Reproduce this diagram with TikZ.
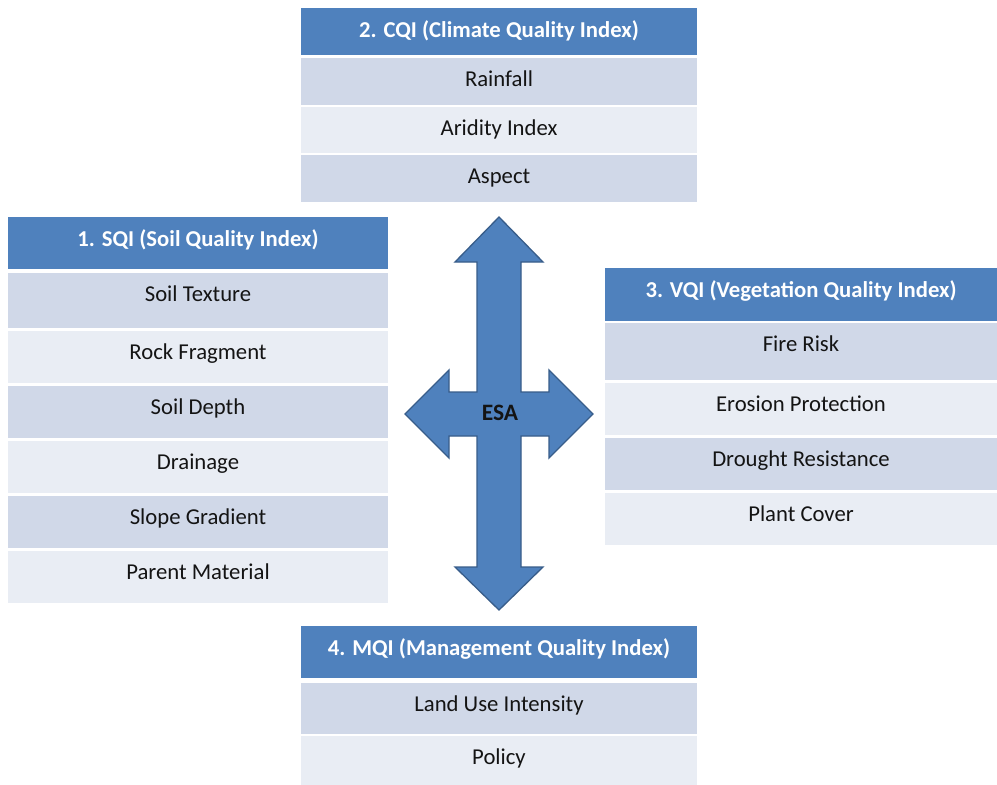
\documentclass[tikz,border=0pt]{standalone}
\usepackage{fontspec}
\setmainfont{Carlito}
\definecolor{hdrblue}{HTML}{4F81BD}
\definecolor{arrowedge}{HTML}{385D8A}
\definecolor{rowdark}{HTML}{D0D8E8}
\definecolor{rowlight}{HTML}{E9EDF4}
\begin{document}
\begin{tikzpicture}[x=1pt,y=-1pt,
  cell/.style={rectangle, inner sep=0pt, text height=15pt, font=\fontsize{22.7}{25}\selectfont},
  hdrcell/.style={cell, fill=hdrblue, text=white, font=\fontsize{22.7}{25}\selectfont\bfseries, text height=17pt},
  darkcell/.style={cell, fill=rowdark, text=black!92},
  lightcell/.style={cell, fill=rowlight, text=black!92},
  wc/.style={minimum width=396pt},
  ws/.style={minimum width=380pt},
  wv/.style={minimum width=392pt},
  bigarrow/.style={fill=hdrblue, draw=arrowedge, line width=1.3pt, line join=miter}
]
\useasboundingbox[fill=white] (0,0) rectangle (997,785);

% 2. CQI
\node[hdrcell, wc, minimum height=47pt, text depth=5pt] (cqih) at (499,31.5) {2. CQI (Climate Quality Index)};
\node[darkcell, wc, minimum height=47pt, text depth=6pt] (cqi1) at (499,81.5) {Rainfall};
\node[lightcell, wc, minimum height=46pt, text depth=5pt] (cqi2) at (499,130) {Aridity Index};
\node[darkcell, wc, minimum height=47pt, text depth=6pt] (cqi3) at (499,178.5) {Aspect};

% 1. SQI
\node[hdrcell, ws, minimum height=52pt, text depth=10pt] (sqih) at (198,243) {1. SQI (Soil Quality Index)};
\node[darkcell, ws, minimum height=55pt, text depth=14pt] (sqi1) at (198,300.5) {Soil Texture};
\node[lightcell, ws, minimum height=52pt, text depth=11pt] (sqi2) at (198,357) {Rock Fragment};
\node[darkcell, ws, minimum height=52pt, text depth=11pt] (sqi3) at (198,412) {Soil Depth};
\node[lightcell, ws, minimum height=52pt, text depth=11pt] (sqi4) at (198,467) {Drainage};
\node[darkcell, ws, minimum height=52pt, text depth=11pt] (sqi5) at (198,522) {Slope Gradient};
\node[lightcell, ws, minimum height=52pt, text depth=11pt] (sqi6) at (198,577) {Parent Material};

% 3. VQI
\node[hdrcell, wv, minimum height=53pt, text depth=11pt] (vqih) at (801,294.5) {3. VQI (Vegetation Quality Index)};
\node[darkcell, wv, minimum height=57pt, text depth=16pt] (vqi1) at (801,351.5) {Fire Risk};
\node[lightcell, wv, minimum height=52pt, text depth=11pt] (vqi2) at (801,409) {Erosion Protection};
\node[darkcell, wv, minimum height=52pt, text depth=11pt] (vqi3) at (801,464) {Drought Resistance};
\node[lightcell, wv, minimum height=52pt, text depth=11pt] (vqi4) at (801,519) {Plant Cover};

% 4. MQI
\node[hdrcell, wc, minimum height=52pt, text depth=10pt] (mqih) at (499,652) {4. MQI (Management Quality Index)};
\node[darkcell, wc, minimum height=51pt, text depth=10pt] (mqi1) at (499,708.5) {Land Use Intensity};
\node[lightcell, wc, minimum height=49pt, text depth=8pt] (mqi2) at (499,760.5) {Policy};

% ESA four-way arrow
\draw[bigarrow] (499,217) -- (543,262) -- (521,262) -- (521,392) -- (549,392) -- (549,370)
  -- (593,414) -- (549,458) -- (549,436) -- (521,436) -- (521,567) -- (543,567)
  -- (499,610) -- (455,567) -- (477,567) -- (477,436) -- (449,436) -- (449,458)
  -- (405,414) -- (449,370) -- (449,392) -- (477,392) -- (477,262) -- (455,262) -- cycle;
\node[font=\fontsize{23.5}{25}\selectfont\bfseries, text=black!92, inner sep=0pt, text height=16pt, text depth=0pt] (esa) at (500,412) {ESA};
\end{tikzpicture}
\end{document}
